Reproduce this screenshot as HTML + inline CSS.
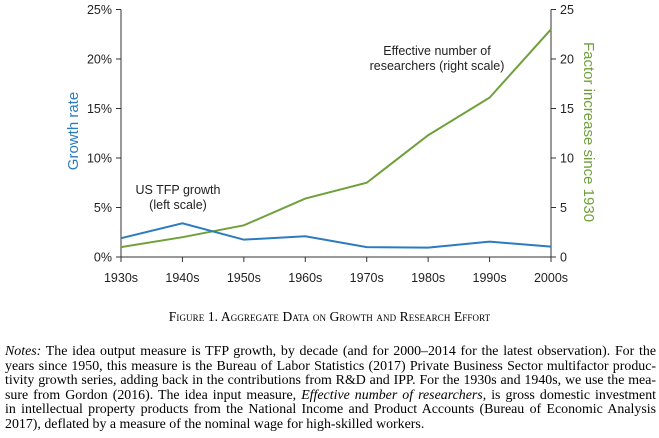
<!DOCTYPE html>
<html><head><meta charset="utf-8"><style>
body{margin:0;width:659px;height:438px;background:#fff;overflow:hidden;position:relative;font-family:"Liberation Sans",sans-serif}
svg{position:absolute;left:0;top:0}
#cap{position:absolute;top:309px;left:0;width:659px;text-align:center;font-family:"Liberation Serif",serif;font-size:13.5px;font-variant:small-caps;letter-spacing:0.1px}
#notes{position:absolute;top:345px;left:5px;width:651px;font-family:"Liberation Serif",serif;font-size:13.9px;line-height:14.6px}
#notes div{text-align:justify;text-align-last:justify;white-space:nowrap}
#notes div.last{text-align-last:left}
</style></head><body>
<svg id="chart" width="659" height="300"></svg>
<div id="cap">Figure 1. Aggregate Data on Growth and Research Effort</div>
<div id="notes">
<div><i>Notes:</i> The idea output measure is TFP growth, by decade (and for 2000–2014 for the latest observation). For the</div>
<div>years since 1950, this measure is the Bureau of Labor Statistics (2017) Private Business Sector multifactor produc-</div>
<div>tivity growth series, adding back in the contributions from R&amp;D and IPP. For the 1930s and 1940s, we use the mea-</div>
<div>sure from Gordon (2016). The idea input measure, <i>Effective number of researchers</i>, is gross domestic investment</div>
<div>in intellectual property products from the National Income and Product Accounts (Bureau of Economic Analysis</div>
<div class="last">2017), deflated by a measure of the nominal wage for high-skilled workers.</div>
</div>
<script>
const categories=["1930s","1940s","1950s","1960s","1970s","1980s","1990s","2000s"];
const tfpGrowth=[1.9,3.4,1.75,2.1,1.0,0.95,1.55,1.05];
const researchers=[1.0,2.0,3.2,5.9,7.5,12.3,16.1,23.0];
const leftTicks=[0,5,10,15,20,25];
const rightTicks=[0,5,10,15,20,25];
const NS="http://www.w3.org/2000/svg";
const svg=document.getElementById('chart');
const x0=121,x1=551,y0=257,y1=9.5;
const xs=i=>x0+(x1-x0)*i/(categories.length-1);
const yl=v=>y0-(y0-y1)*v/25;
const yr=v=>y0-(y0-y1)*v/25;
function mk(t,a,txt){const e=document.createElementNS(NS,t);for(const k in a)e.setAttribute(k,a[k]);if(txt!==undefined)e.textContent=txt;svg.appendChild(e);return e;}
let e;
e=mk('line',{x1:x0,y1:y1,x2:x0,y2:y0+5,stroke:'#333','stroke-width':1});

e=mk('line',{x1:x1,y1:y1,x2:x1,y2:y0,stroke:'#333','stroke-width':1});

e=mk('line',{x1:x0-5,y1:y0,x2:x1,y2:y0,stroke:'#333','stroke-width':1});

leftTicks.forEach(v=>{mk('line',{x1:x0-5,y1:yl(v),x2:x0,y2:yl(v),stroke:'#333'});
e=mk('text',{x:x0-9,y:yl(v)+4.5,'text-anchor':'end','font-size':12.5,fill:'#222'},v+'%');
});
rightTicks.forEach(v=>{mk('line',{x1:x1,y1:yr(v),x2:x1+5,y2:yr(v),stroke:'#333'});
e=mk('text',{x:x1+9,y:yr(v)+4.5,'text-anchor':'start','font-size':12.5,fill:'#222'},v);
});
categories.forEach((c,i)=>{mk('line',{x1:xs(i),y1:y0,x2:xs(i),y2:y0+5,stroke:'#333'});
e=mk('text',{x:xs(i),y:y0+25,'text-anchor':'middle','font-size':12.5,fill:'#222'},c);
});
e=mk('polyline',{points:researchers.map((v,i)=>xs(i)+','+yr(v)).join(' '),fill:'none',stroke:'#6fa03c','stroke-width':2});

e=mk('polyline',{points:tfpGrowth.map((v,i)=>xs(i)+','+yl(v)).join(' '),fill:'none',stroke:'#2b7bbf','stroke-width':2});

e=mk('text',{x:0,y:0,transform:'translate(78,131) rotate(-90)','text-anchor':'middle','font-size':15,fill:'#2b7bbf'},'Growth rate');

e=mk('text',{x:0,y:0,transform:'translate(584,132) rotate(90)','text-anchor':'middle','font-size':15,fill:'#6fa03c'},'Factor increase since 1930');

e=mk('text',{x:178,y:194,'text-anchor':'middle','font-size':12.5,fill:'#222'},'US TFP growth');

e=mk('text',{x:178,y:209,'text-anchor':'middle','font-size':12.5,fill:'#222'},'(left scale)');

e=mk('text',{x:437,y:55,'text-anchor':'middle','font-size':12.5,fill:'#222'},'Effective number of');

e=mk('text',{x:437,y:70,'text-anchor':'middle','font-size':12.5,fill:'#222'},'researchers (right scale)');

</script>
</body></html>
